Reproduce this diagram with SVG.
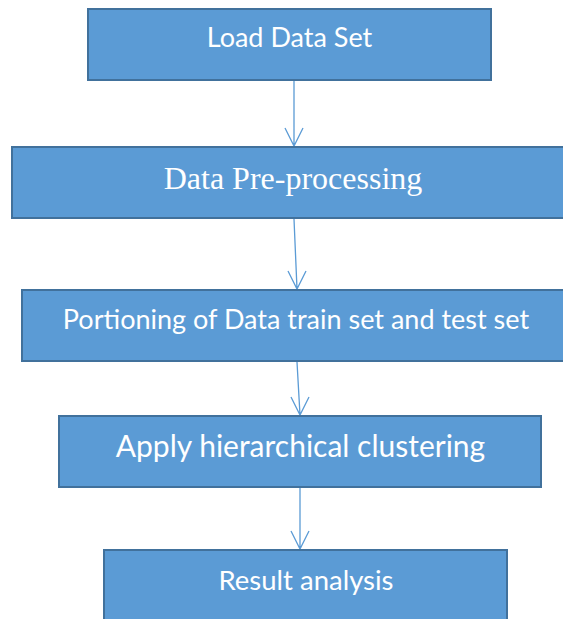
<svg xmlns="http://www.w3.org/2000/svg" width="563" height="619" viewBox="0 0 563 619">
<style>
.box{fill:#5B9BD5;stroke:#41719C;stroke-width:2}
.lbl{fill:#FFFFFF;font-family:Lato,"Open Sans","Liberation Sans",sans-serif;font-size:27px;text-anchor:middle}
.big{font-size:30px}
.ser{fill:#FFFFFF;font-family:"Liberation Serif","Times New Roman",serif;font-size:32px;text-anchor:middle}
.conn{fill:none;stroke:#5B9BD5;stroke-width:1.3}
</style>
<rect x="0" y="0" width="563" height="619" fill="#FFFFFF"/>
<g id="connectors">
<path class="conn" d="M294,80 L294,146 M285,128 L294,146 L303,128"/>
<path class="conn" d="M294,219 L297,289 M288,271 L297,289 L306,271"/>
<path class="conn" d="M297,362 L300,415 M291,397 L300,415 L309,397"/>
<path class="conn" d="M300,488 L300,549 M291,531 L300,549 L309,531"/>
</g>
<g id="n1">
<rect class="box" x="88" y="9" width="403" height="71"/>
<text class="lbl" x="289.5" y="47">Load Data Set</text>
</g>
<g id="n2">
<rect class="box" x="12" y="147" width="562" height="71"/>
<text class="ser" x="293" y="189">Data Pre-processing</text>
</g>
<g id="n3">
<rect class="box" x="22" y="290" width="548" height="71"/>
<text class="lbl" x="296" y="329">Portioning of Data train set and test set</text>
</g>
<g id="n4">
<rect class="box" x="59" y="416" width="482" height="71"/>
<text class="lbl big" x="300.5" y="457">Apply hierarchical clustering</text>
</g>
<g id="n5">
<rect class="box" x="104" y="550" width="403" height="72"/>
<text class="lbl" x="306" y="590" style="font-size:27.5px">Result analysis</text>
</g>
</svg>
